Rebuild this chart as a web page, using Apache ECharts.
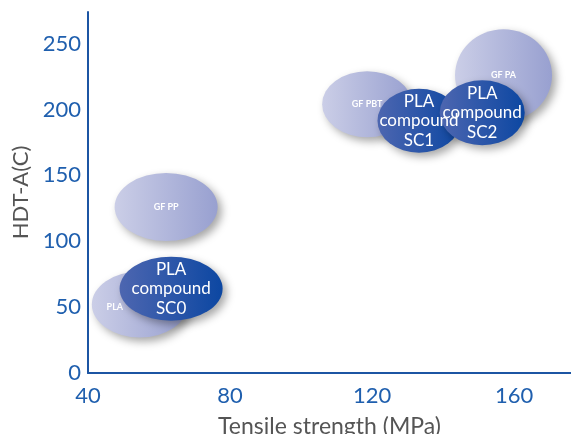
<!DOCTYPE html>
<html><head><meta charset="utf-8">
<script src="https://cdn.jsdelivr.net/npm/echarts@6/dist/echarts.min.js"></script>
<style>html,body{margin:0;padding:0;background:#fff}#c{width:571px;height:434px}</style>
</head><body><div id="c"></div>
<script>
// Reference materials (light ellipses)
const refNames = ['PLA', 'GF PP', 'GF PBT', 'GF PA'];
const refStrength = [54.6, 62, 118.6, 157];
const refHDT = [52, 126, 204, 226];
// PLA compounds (dark ellipses)
const compNames = ['PLA\ncompound\nSC0', 'PLA\ncompound\nSC1', 'PLA\ncompound\nSC2'];
const compStrength = [63.4, 133.2, 151];
const compHDT = [64, 191.5, 197.6];
// axis ticks
const xTicks = [40, 80, 120, 160];
const yTicks = [0, 50, 100, 150, 200, 250];

// visual styling (pixel sizes of the ellipses)
const refSizes = [[96, 66], [103, 68], [90, 66], [97, 92]];
const compSizes = [[103, 64], [83, 64], [85, 65]];
const refLabelOffsets = [[-25, 3], [0, 0], [0, 0], [0, 0]];

const FONT = 'Lato';
const lightGrad = {type:'linear', x:0, y:0, x2:1, y2:0, colorStops:[{offset:0,color:'#cbcee7'},{offset:1,color:'#98a0d0'}]};
const darkGrad = {type:'linear', x:0, y:0, x2:1, y2:0, colorStops:[{offset:0,color:'#4d66b0'},{offset:1,color:'#0c47a2'}]};
const shadow = {shadowColor:'rgba(0,0,0,0.35)', shadowBlur:8, shadowOffsetX:4, shadowOffsetY:4};

const chart = echarts.init(document.getElementById('c'), null, {renderer:'canvas'});
chart.setOption({
  animation:false,
  backgroundColor:'#ffffff',
  grid:{left:88, right:0, top:12, bottom:61, containLabel:false, outerBoundsMode:'none'},
  xAxis:{
    type:'value', min:40, max:176, interval:40,
    name:'Tensile strength (MPa)', nameLocation:'middle', nameGap:42,
    nameTextStyle:{color:'#555555', fontSize:23, fontFamily:FONT},
    axisLine:{show:true, onZero:false, lineStyle:{color:'#1c55a3', width:2}},
    axisTick:{show:false}, splitLine:{show:false},
    axisLabel:{color:'#1f5fae', fontSize:22, fontFamily:FONT, margin:12,
      formatter:v => xTicks.includes(v) ? String(v) : ''}
  },
  yAxis:{
    type:'value', min:0, max:274, interval:50,
    name:'HDT-A(C)', nameLocation:'middle', nameGap:55, nameRotate:90,
    nameTextStyle:{color:'#555555', fontSize:22, fontFamily:FONT},
    axisLine:{show:true, onZero:false, lineStyle:{color:'#1c55a3', width:2}},
    axisTick:{show:false}, splitLine:{show:false},
    axisLabel:{color:'#1f5fae', fontSize:22, fontFamily:FONT, margin:7,
      formatter:v => yTicks.includes(v) ? String(v) : ''}
  },
  series:[
    {
      type:'scatter', symbol:'circle', z:2,
      itemStyle:Object.assign({color:lightGrad, opacity:1}, shadow),
      label:{show:true, position:'inside', color:'#ffffff', fontSize:9, fontWeight:'bold', fontFamily:FONT,
        formatter:p => p.name},
      data:refNames.map((n,i)=>({name:n, value:[refStrength[i], refHDT[i]], symbolSize:refSizes[i],
        label:{offset:refLabelOffsets[i]}}))
    },
    {
      type:'scatter', symbol:'circle', z:3,
      itemStyle:Object.assign({color:darkGrad, opacity:1}, shadow),
      label:{show:true, position:'inside', color:'#ffffff', fontSize:17, lineHeight:19.5, fontFamily:FONT,
        formatter:p => p.name},
      data:compNames.map((n,i)=>({name:n, value:[compStrength[i], compHDT[i]], symbolSize:compSizes[i]}))
    }
  ]
});
</script></body></html>
